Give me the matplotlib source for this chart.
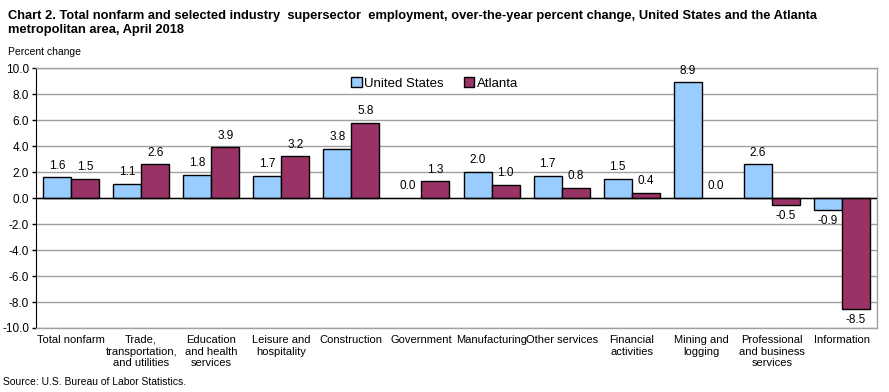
import matplotlib
matplotlib.use("Agg")
import matplotlib.pyplot as plt
import numpy as np

categories = ["Total nonfarm", "Trade,\ntransportation,\nand utilities", "Education\nand health\nservices",
              "Leisure and\nhospitality", "Construction", "Government", "Manufacturing", "Other services",
              "Financial\nactivities", "Mining and\nlogging", "Professional\nand business\nservices", "Information"]
us = [1.6, 1.1, 1.8, 1.7, 3.8, 0.0, 2.0, 1.7, 1.5, 8.9, 2.6, -0.9]
atl = [1.5, 2.6, 3.9, 3.2, 5.8, 1.3, 1.0, 0.8, 0.4, 0.0, -0.5, -8.5]
yticks = [10, 8, 6, 4, 2, 0, -2, -4, -6, -8, -10]

plt.rcParams['font.family'] = ['Liberation Sans', 'DejaVu Sans']

W, H = 889, 392
fig = plt.figure(figsize=(W/100, H/100), dpi=100)
ax = fig.add_axes([36/W, 1-328/H, (877-36)/W, (328-68)/H])

x = np.arange(len(categories))
bw = 0.4
c_us = "#99CCFF"
c_atl = "#993366"
b1 = ax.bar(x - bw/2, us, bw, color=c_us, edgecolor="black",
            linewidth=[1 if v != 0 else 0 for v in us], label="United States", zorder=3)
b2 = ax.bar(x + bw/2, atl, bw, color=c_atl, edgecolor="black",
            linewidth=[1 if v != 0 else 0 for v in atl], label="Atlanta", zorder=3)

for bars, vals in ((b1, us), (b2, atl)):
    for r, v in zip(bars, vals):
        cx = r.get_x() + r.get_width()/2
        if v >= 0:
            ax.annotate(f"{v:.1f}", (cx, v), xytext=(0, 4), textcoords="offset points",
                        ha="center", va="bottom", fontsize=8.5)
        else:
            ax.annotate(f"{v:.1f}", (cx, v), xytext=(0, -4), textcoords="offset points",
                        ha="center", va="top", fontsize=8.5)

ax.set_xlim(-0.5, len(categories) - 0.5)
ax.set_ylim(-10, 10)
ax.set_yticks(yticks)
ax.set_yticklabels([f"{t:.1f}" for t in yticks], fontsize=8.5)
ax.yaxis.grid(True, color="#A0A0A0", linewidth=1, zorder=0)
ax.set_axisbelow(True)
ax.axhline(0, color="black", linewidth=1, zorder=4)
ax.set_xticks(x)
ax.set_xticklabels(categories, fontsize=8, linespacing=1.2)
ax.tick_params(axis="x", length=0, pad=5)
ax.tick_params(axis="y", length=3, direction="out", width=1, pad=2)
for s in ["top", "right", "bottom"]:
    ax.spines[s].set_color("#A0A0A0")
    ax.spines[s].set_linewidth(1)
ax.spines["left"].set_color("black")

leg = ax.legend(loc="upper center", bbox_to_anchor=(0.474, 1.0), ncol=2, frameon=False,
                fontsize=9.5, handlelength=0.8, handleheight=0.8, handletextpad=0.2,
                columnspacing=1.5, borderaxespad=0.3)

fig.text(8/W, 1-10/H, "Chart 2. Total nonfarm and selected industry  supersector  employment, over-the-year percent change, United States and the Atlanta\nmetropolitan area, April 2018",
         fontsize=9.3, fontweight="bold", va="top", ha="left", linespacing=1.2,
         family=['Liberation Sans Narrow', 'Liberation Sans', 'DejaVu Sans'])
fig.text(8/W, 1-52/H, "Percent change", fontsize=7.5, va="center", ha="left")
fig.text(3/W, 1-382/H, "Source: U.S. Bureau of Labor Statistics.", fontsize=7.5, va="center", ha="left")

fig.savefig("out.png", dpi=100)
